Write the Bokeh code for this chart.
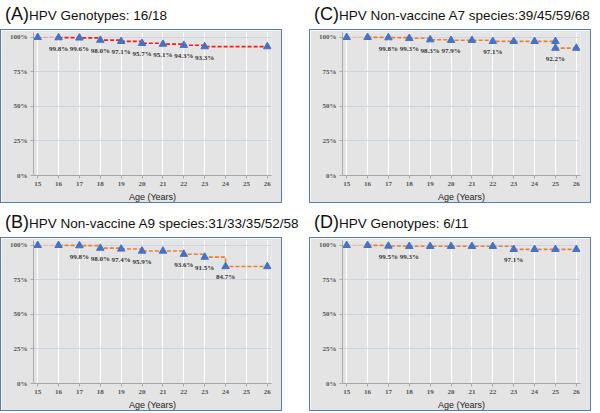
from bokeh.plotting import figure
from bokeh.layouts import column, row
from bokeh.models import Div, FixedTicker, ColumnDataSource, Range1d
from bokeh.core.properties import value
from bokeh.embed import file_html
from bokeh.resources import INLINE

# ---- data ----
x_ticks = [15, 16, 17, 18, 19, 20, 21, 22, 23, 24, 25, 26]
y_ticks = [0, 25, 50, 75, 100]
y_tick_labels = ["0%", "25%", "50%", "75%", "100%"]

ages_a = [15, 16, 17, 18, 19, 20, 21, 22, 23, 26]
surv_a = [100.0, 99.8, 99.6, 98.0, 97.1, 95.7, 95.1, 94.3, 93.3, 93.3]
lab_a = ["", "99.8%", "99.6%", "98.0%", "97.1%", "95.7%", "95.1%", "94.3%", "93.3%", ""]

ages_b = [15, 16, 17, 18, 19, 20, 21, 22, 23, 24, 26]
surv_b = [100.0, 100.0, 99.8, 98.0, 97.4, 95.9, 95.9, 93.6, 91.5, 84.7, 84.7]
lab_b = ["", "", "99.8%", "98.0%", "97.4%", "95.9%", "", "93.6%", "91.5%", "84.7%", ""]

ages_c = [15, 16, 17, 18, 19, 20, 21, 22, 23, 24, 25, 25, 26]
surv_c = [100.0, 100.0, 99.8, 99.3, 98.3, 97.9, 97.9, 97.1, 97.1, 97.1, 97.1, 92.2, 92.2]
lab_c = ["", "", "99.8%", "99.3%", "98.3%", "97.9%", "", "97.1%", "", "", "", "92.2%", ""]

ages_d = [15, 16, 17, 18, 19, 20, 21, 22, 23, 24, 25, 26]
surv_d = [100.0, 100.0, 99.5, 99.3, 99.3, 99.3, 99.3, 99.3, 97.1, 97.1, 97.1, 97.1]
lab_d = ["", "", "99.5%", "99.3%", "", "", "", "", "97.1%", "", "", ""]

titles = {
    "A": "HPV Genotypes: 16/18",
    "B": "HPV Non-vaccine A9 species:31/33/35/52/58",
    "C": "HPV Non-vaccine A7 species:39/45/59/68",
    "D": "HPV Genotypes: 6/11",
}

BG = "#e4e4e4"


def make_panel(letter, ages, surv, labels, color, first_color):
    p = figure(width=282, height=174,
               x_range=Range1d(14.8, 26.2), y_range=Range1d(0, 103.5),
               output_backend="svg", toolbar_location=None,
               min_border_left=32, min_border_right=12,
               min_border_top=2, min_border_bottom=29,
               background_fill_color=BG, border_fill_color=BG,
               outline_line_color=None,
               styles={"border": "1.5px solid #5a7aa8"})
    # axes
    p.xaxis.ticker = FixedTicker(ticks=x_ticks)
    p.yaxis.ticker = FixedTicker(ticks=y_ticks)
    p.yaxis.major_label_overrides = {t: l for t, l in zip(y_ticks, y_tick_labels)}
    for ax in (p.xaxis, p.yaxis):
        ax.axis_line_color = "#a8a8a8"
        ax.major_tick_line_color = "#a8a8a8"
        ax.minor_tick_line_color = None
        ax.major_tick_out = 3
        ax.major_tick_in = 0
        ax.major_label_text_font = "Liberation Serif"
        ax.major_label_text_font_style = "bold"
        ax.major_label_text_font_size = "7px"
        ax.major_label_text_color = "#555555"
        ax.major_label_standoff = 3
    p.xaxis.axis_label = "Age (Years)"
    p.xaxis.axis_label_text_font = "Liberation Sans"
    p.xaxis.axis_label_text_font_style = "normal"
    p.xaxis.axis_label_text_font_size = "9px"
    p.xaxis.axis_label_text_color = "#222222"
    p.xaxis.axis_label_standoff = 3
    # grids
    p.xgrid.ticker = FixedTicker(ticks=x_ticks)
    p.xgrid.grid_line_color = "white"
    p.xgrid.grid_line_width = 1
    p.ygrid.ticker = FixedTicker(ticks=y_ticks)
    p.ygrid.grid_line_color = "#cdd5e4"
    p.ygrid.grid_line_width = 1

    # first segment (lighter)
    p.step(ages[:2], surv[:2], mode="after", line_color=first_color,
           line_width=1.2, line_dash="4 2")
    # rest of the survival curve
    p.step(ages[1:], surv[1:], mode="after", line_color=color,
           line_width=1.6, line_dash="4 2")
    src = ColumnDataSource(dict(x=ages, y=surv, t=labels))
    p.scatter("x", "y", source=src, marker="triangle", size=7.5,
              fill_color="#4472c4", line_color="#4472c4")
    p.text("x", "y", text="t", source=src, y_offset=11,
           text_align="center", text_baseline="middle",
           text_font=value("Liberation Serif"), text_font_style="bold",
           text_font_size="7px", text_color="#333333")

    div = Div(text=(f'<span style="font-size:18px">({letter})</span>'
                    f'<span style="font-size:13.5px">{titles[letter]}</span>'),
              width=285, height=19,
              styles={"font-family": "'Liberation Sans', Arial, sans-serif",
                      "color": "#111111", "line-height": "18px",
                      "white-space": "nowrap"})
    return column(div, p, spacing=0)


pa = make_panel("A", ages_a, surv_a, lab_a, "#ff1a1a", "#f59a9a")
pb = make_panel("B", ages_b, surv_b, lab_b, "#ed7d31", "#f5b88f")
pc = make_panel("C", ages_c, surv_c, lab_c, "#ed7d31", "#f5b88f")
pd_ = make_panel("D", ages_d, surv_d, lab_d, "#ed7d31", "#f5b88f")

layout = column(row(pa, pc, spacing=14), row(pb, pd_, spacing=14), spacing=5)

open("out.html", "w").write(file_html(layout, INLINE))
